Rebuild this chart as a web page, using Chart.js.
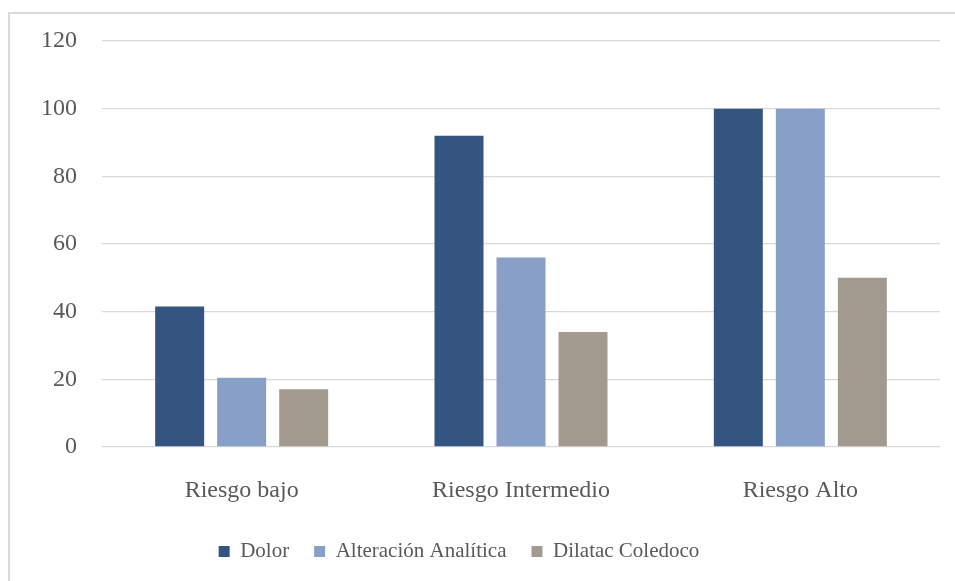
<!DOCTYPE html>
<html lang="es">
<head>
<meta charset="utf-8">
<script src="https://cdn.jsdelivr.net/npm/chart.js@4/dist/chart.umd.min.js"></script>
<style>
  html, body { margin: 0; padding: 0; background: #fff; font-family: "Liberation Serif", serif; }
  .frame {
    position: absolute;
    left: 8px;
    top: 12px;
    width: 960px;
    height: 600px;
    border-left: 2px solid #d9d9d9;
    border-top: 2px solid #d9d9d9;
  }
  .chart-box {
    position: absolute;
    left: 0;
    top: 0;
    width: 955px;
    height: 581px;
  }
</style>
</head>
<body>
<div class="frame"></div>
<div class="chart-box">
  <canvas id="riesgoChart" width="955" height="581"></canvas>
</div>
<script>
const categorias = ['Riesgo bajo', 'Riesgo Intermedio', 'Riesgo Alto'];
const dolor = [41.5, 92, 100];
const alteracionAnalitica = [20.5, 56, 100];
const dilatacColedoco = [17.1, 34, 50];

const textColor = '#595959';
const serif = 'Liberation Serif';

Chart.defaults.font.family = serif;
Chart.defaults.color = textColor;

// nudge the bottom legend a little to the left of the plot centre
const legendShift = {
  id: 'legendShift',
  afterLayout(chart) {
    const lg = chart.legend;
    if (!lg) return;
    lg.left -= 11;
    lg.right -= 11;
  }
};

new Chart(document.getElementById('riesgoChart'), {
  type: 'bar',
  data: {
    labels: categorias,
    datasets: [
      { label: 'Dolor', data: dolor, backgroundColor: '#34557f' },
      { label: 'Alteración Analítica', data: alteracionAnalitica, backgroundColor: '#889fc7' },
      { label: 'Dilatac Coledoco', data: dilatacColedoco, backgroundColor: '#a29a8e' }
    ]
  },
  plugins: [legendShift],
  options: {
    responsive: false,
    animation: false,
    datasets: {
      bar: { categoryPercentage: 0.666, barPercentage: 0.79 }
    },
    layout: { padding: { left: 0, top: 41, right: 15, bottom: 9 } },
    plugins: {
      legend: {
        position: 'bottom',
        labels: {
          color: textColor,
          font: { family: serif, size: 21 },
          boxWidth: 11,
          boxHeight: 11,
          padding: 25
        }
      },
      tooltip: { enabled: false }
    },
    scales: {
      x: {
        grid: { display: false },
        border: { display: false },
        ticks: { color: textColor, font: { family: serif, size: 24 }, padding: 21 },
        afterFit(scale) { scale.height = 69; }
      },
      y: {
        min: 0,
        max: 120,
        ticks: { stepSize: 20, color: textColor, font: { family: serif, size: 24 }, padding: 25 },
        grid: { color: '#d9d9d9', lineWidth: 1.3, drawTicks: false },
        border: { display: false },
        afterFit(scale) { scale.width = 102; }
      }
    }
  }
});
</script>
</body>
</html>
